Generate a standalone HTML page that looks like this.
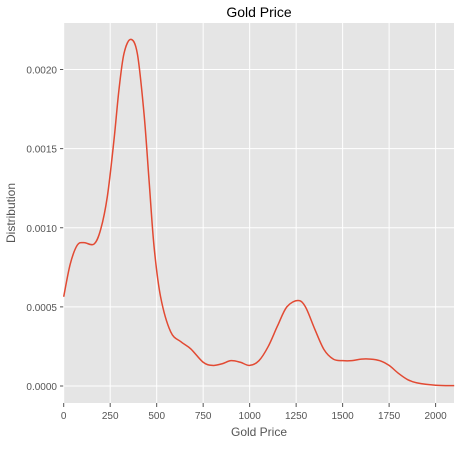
<!DOCTYPE html>
<html><head><meta charset="utf-8"><style>
body{margin:0;background:#fff;font-family:"Liberation Sans","DejaVu Sans",sans-serif;}
</style></head><body>
<svg id="c" width="456" height="445" xmlns="http://www.w3.org/2000/svg"></svg>
<script>
const xs=[0,35,73,109,163,199,235,270,297,324,360,396,432,459,486,521,575,630,683,750,800,850,900,950,1000,1050,1100,1150,1200,1260,1300,1350,1400,1450,1500,1550,1600,1650,1700,1750,1800,1850,1900,2000,2100];
const ys=[0.000564,0.00077,0.00089,0.000906,0.000897,0.00099,0.0012,0.00155,0.00187,0.0021,0.00219,0.0021,0.00172,0.0013,0.00088,0.000564,0.000343,0.00028,0.000235,0.00015,0.00013,0.00014,0.00016,0.00015,0.00013,0.00016,0.00025,0.00038,0.0005,0.00054,0.0005,0.00036,0.00023,0.00017,0.00016,0.00016,0.00017,0.00017,0.00016,0.00013,0.00008,0.00004,0.00002,0.000005,0.000002];
const xTicks=[0,250,500,750,1000,1250,1500,1750,2000];
const yTicks=[0,0.0005,0.001,0.0015,0.002];
const L=64,T=23,R=454,B=403;
const X=v=>63.7+v*0.18595;
const Y=v=>386-v*158250;
const svg=document.getElementById('c');
const NS='http://www.w3.org/2000/svg';
function mk(t,a,txt){const e=document.createElementNS(NS,t);for(const k in a)e.setAttribute(k,a[k]);if(txt!=null)e.textContent=txt;svg.appendChild(e);return e;}
let e=mk('rect',{x:L,y:T,width:R-L,height:B-T,fill:'#e5e5e5'});


yTicks.forEach(v=>{
 let g=mk('line',{x1:L,x2:R,y1:Y(v),y2:Y(v),stroke:'#fff','stroke-width':1});
 
 
 mk('line',{x1:L-4,x2:L,y1:Y(v),y2:Y(v),stroke:'#555'});
 let t=mk('text',{x:L-7,y:Y(v)+4,'text-anchor':'end','font-size':10,fill:'#555'},v.toFixed(4));
 
 
});
xTicks.forEach(v=>{
 let g=mk('line',{x1:X(v),x2:X(v),y1:T,y2:B,stroke:'#fff','stroke-width':1});
 
 
 mk('line',{x1:X(v),x2:X(v),y1:B,y2:B+4,stroke:'#555'});
 let t=mk('text',{x:X(v),y:B+16,'text-anchor':'middle','font-size':10,fill:'#555'},String(v));
 
 
});
const P=xs.map((x,i)=>[X(x),Y(ys[i])]);
let d='M'+P[0][0]+','+P[0][1];
for(let i=0;i<P.length-1;i++){
 const p0=P[Math.max(0,i-1)],p1=P[i],p2=P[i+1],p3=P[Math.min(P.length-1,i+2)];
 const c1=[p1[0]+(p2[0]-p0[0])/6,p1[1]+(p2[1]-p0[1])/6];
 const c2=[p2[0]-(p3[0]-p1[0])/6,p2[1]-(p3[1]-p1[1])/6];
 d+=`C${c1[0]},${c1[1]} ${c2[0]},${c2[1]} ${p2[0]},${p2[1]}`;
}
let ln=mk('path',{d:d,fill:'none',stroke:'#e24a33','stroke-width':1.5});


let tt=mk('text',{x:259,y:17,'text-anchor':'middle','font-size':14,fill:'#000'},'Gold Price');


let xl=mk('text',{x:259,y:436,'text-anchor':'middle','font-size':12,fill:'#555'},'Gold Price');


let yl=mk('text',{x:15,y:213,'text-anchor':'middle','font-size':12,fill:'#555',transform:'rotate(-90 15 213)'},'Distribution');


</script>
</body></html>
